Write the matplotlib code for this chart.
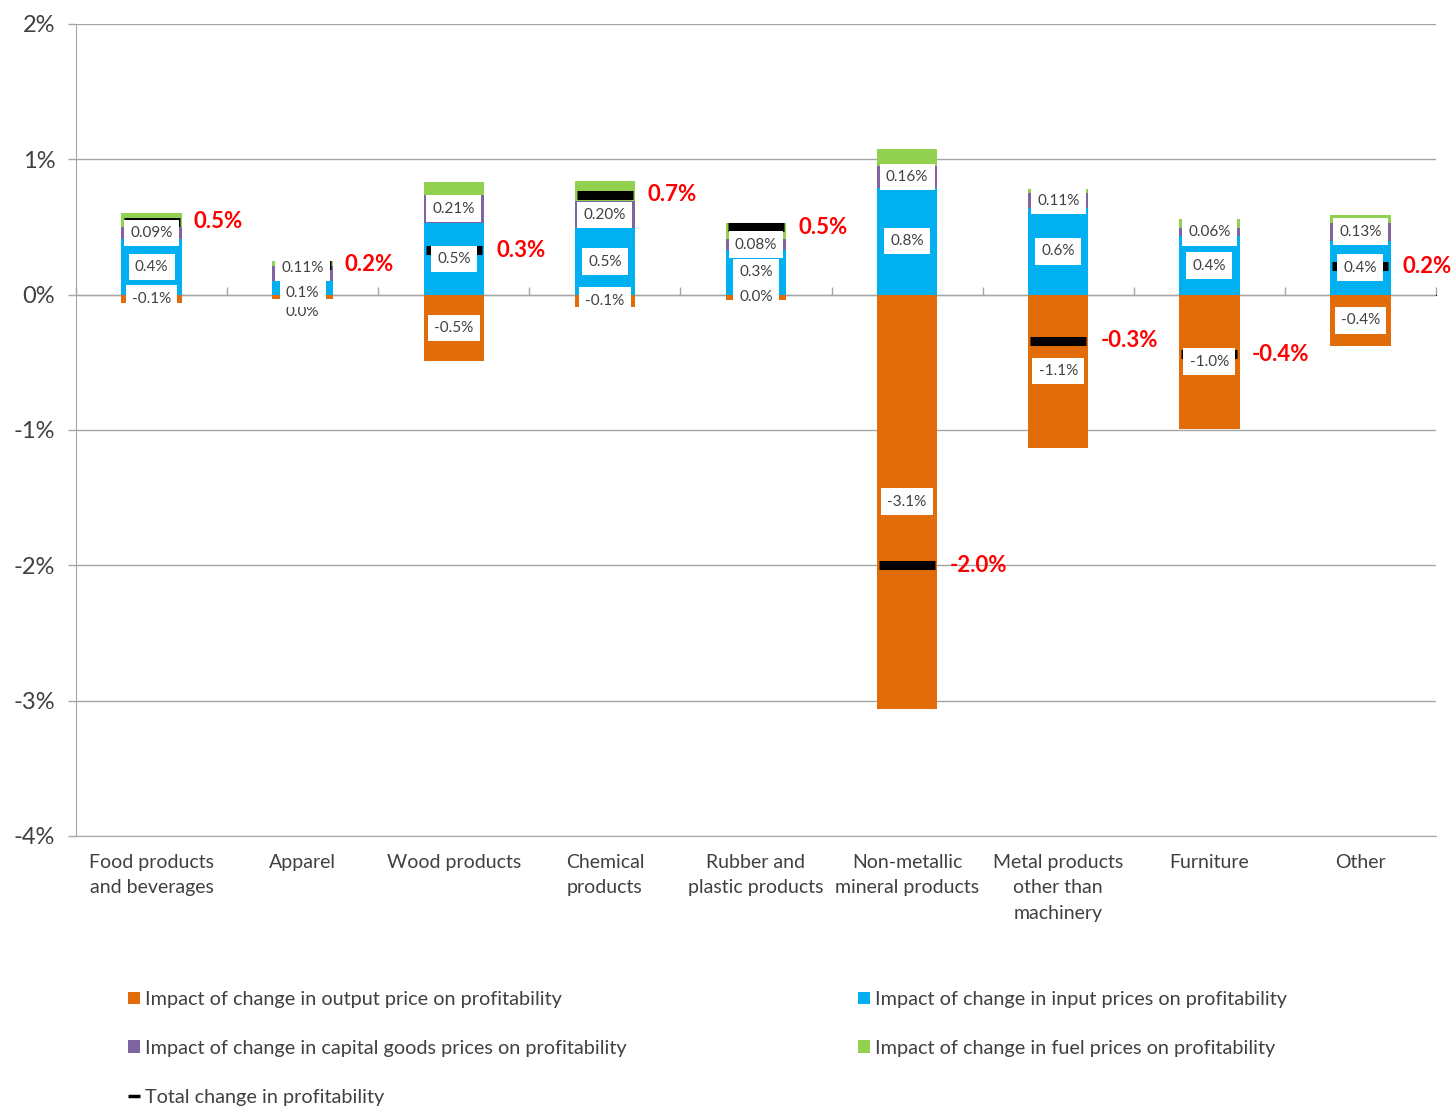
import matplotlib
matplotlib.use("Agg")
import matplotlib.pyplot as plt
from matplotlib.lines import Line2D
import numpy as np

plt.rcParams['font.family'] = ['Lato', 'DejaVu Sans']
plt.rcParams['axes.unicode_minus'] = False

# 数据 (单位: %)
categories = ["Food products\nand beverages", "Apparel", "Wood products", "Chemical\nproducts",
              "Rubber and\nplastic products", "Non-metallic\nmineral products",
              "Metal products\nother than\nmachinery", "Furniture", "Other"]
output_price = [-0.06, -0.03, -0.49, -0.09, -0.04, -3.06, -1.13, -0.99, -0.38]
input_prices = [0.41, 0.10, 0.53, 0.49, 0.33, 0.79, 0.64, 0.43, 0.40]
capital_goods = [0.09, 0.11, 0.21, 0.20, 0.08, 0.16, 0.11, 0.06, 0.13]
fuel_prices = [0.10, 0.04, 0.09, 0.15, 0.12, 0.13, 0.03, 0.07, 0.06]
total_change = [0.54, 0.22, 0.33, 0.74, 0.50, -2.00, -0.34, -0.44, 0.21]

c_orange = '#E36C0A'
c_blue = '#00B0F0'
c_purple = '#8064A2'
c_green = '#92D050'
c_text = '#404040'
c_grid = '#A6A6A6'

def fmt(v, nd):
    s = f"{v:.{nd}f}"
    if float(s) == 0:
        s = s.lstrip('-')
    return s + '%'

x = np.arange(len(categories))
w = 0.4
ymin, ymax = -4, 2

fig = plt.figure(figsize=(14.54, 11.08), dpi=100)
ax = fig.add_axes([76/1454, 1-836/1108, 1360/1454, 812/1108])

b_out = ax.bar(x, output_price, w, color=c_orange, zorder=2)
b_in = ax.bar(x, input_prices, w, color=c_blue, zorder=2)
bottom2 = np.array(input_prices)
b_cap = ax.bar(x, capital_goods, w, bottom=bottom2, color=c_purple, zorder=2)
bottom3 = bottom2 + np.array(capital_goods)
b_fuel = ax.bar(x, fuel_prices, w, bottom=bottom3, color=c_green, zorder=2)

# 总变化 (黑色短横线)
ax.plot(x, total_change, ls='none', marker='_', ms=40, mew=6.5, color='black', zorder=3)

# 数据标签
nudge = {(1, 0): -11, (1, 1): -4, (1, 2): 4}   # Apparel 标签错开
box = dict(fc='white', ec='none', pad=4.5)
series = [(output_price, np.zeros(len(x)), 1), (input_prices, np.zeros(len(x)), 1),
          (capital_goods, bottom2, 2)]
for k, (vals, bots, nd) in enumerate(series):
    for i, v in enumerate(vals):
        yc = bots[i] + v / 2
        ax.annotate(fmt(v, nd), (x[i], yc), xytext=(0, nudge.get((i, k), 0)),
                    textcoords='offset points', ha='center', va='center',
                    fontsize=11, color=c_text, bbox=box, zorder=4)

for i, t in enumerate(total_change):
    ax.text(x[i] + 0.28, t, fmt(t, 1), ha='left', va='center', fontsize=16,
            fontweight='bold', color='#FF0000', zorder=4)

# 坐标轴
ax.set_xlim(-0.5, len(x) - 0.5)
ax.set_ylim(ymin, ymax)
ax.set_yticks(range(ymin, ymax + 1))
ax.set_yticklabels([f"{v}%" for v in range(ymin, ymax + 1)])
ax.tick_params(axis='y', length=6, width=1, color=c_grid, labelsize=17, labelcolor=c_text, pad=9)
ax.set_xticks(x)
ax.set_xticklabels(categories, linespacing=1.6)
ax.tick_params(axis='x', length=0, labelsize=14, labelcolor=c_text, pad=13)
ax.grid(axis='y', color=c_grid, lw=1, zorder=0)
ax.set_axisbelow(True)
for s in ['top', 'right']:
    ax.spines[s].set_visible(False)
ax.spines['left'].set_color(c_grid)
ax.spines['bottom'].set_color(c_grid)

# 0% 处的类别轴
sec = ax.secondary_xaxis((0 - ymin) / (ymax - ymin))
sec.set_xticks(np.arange(-0.5, len(x), 1.0))
sec.set_xticklabels([])
sec.tick_params(axis='x', length=6, width=1, color=c_grid)
sec.spines['bottom'].set_color(c_grid)

# 图例
leg_kw = dict(frameon=False, fontsize=14.3, handlelength=0.6, handleheight=0.6,
              handletextpad=0.25, labelspacing=1.6, borderaxespad=0, borderpad=0,
              loc='upper left', labelcolor=c_text)
h_total = Line2D([], [], ls='none', marker='_', ms=9, mew=2.5, color='black')
fig.legend([b_out, b_cap, h_total],
           ["Impact of change in output price on profitability",
            "Impact of change in capital goods prices on profitability",
            "Total change in profitability"],
           bbox_to_anchor=(128/1454, 1-991/1108), **leg_kw)
fig.legend([b_in, b_fuel],
           ["Impact of change in input prices on profitability",
            "Impact of change in fuel prices on profitability"],
           bbox_to_anchor=(858/1454, 1-991/1108), **leg_kw)

fig.savefig("out.png", dpi=100)
